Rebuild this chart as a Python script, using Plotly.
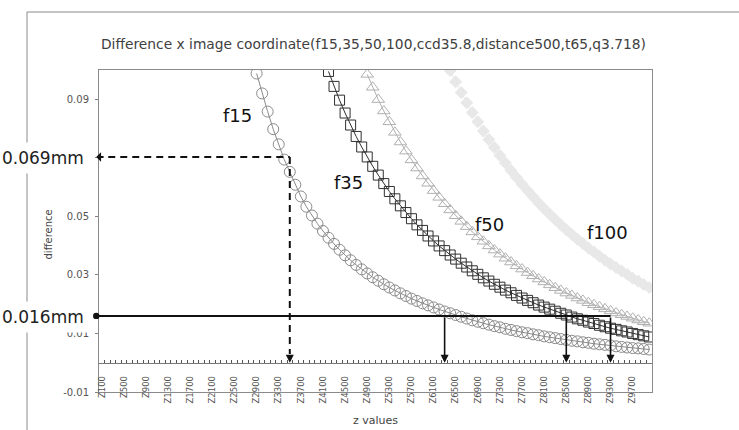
import plotly.graph_objects as go

# ---------------- data ----------------
z_values = list(range(100, 10001, 100))          # categories Z100 ... Z10000
z_tick_labels = ["Z100", "Z500", "Z900", "Z1300", "Z1700", "Z2100", "Z2500", "Z2900",
                 "Z3300", "Z3700", "Z4100", "Z4500", "Z4900", "Z5300", "Z5700", "Z6100",
                 "Z6500", "Z6900", "Z7300", "Z7700", "Z8100", "Z8500", "Z8900", "Z9300", "Z9700"]
y_tick_values = [-0.01, 0.01, 0.03, 0.05, 0.07, 0.09]
y_tick_labels = ["-0.01", "0.01", "0.03", "0.05", "", "0.09"]   # 0.07 is hidden by the 0.069mm note

f15_start = 2900
f15 = [0.0988, 0.0920, 0.0858, 0.0798, 0.0746, 0.0694, 0.0652, 0.0608, 0.0568, 0.0533,
       0.0503, 0.0475, 0.0450, 0.0427, 0.0406, 0.0386, 0.0367, 0.0350, 0.0334, 0.0319,
       0.0305, 0.0292, 0.0280, 0.0268, 0.0257, 0.0247, 0.0237, 0.0228, 0.0219, 0.0211,
       0.0203, 0.0196, 0.0189, 0.0182, 0.0175, 0.0169, 0.0163, 0.0157, 0.0151, 0.0145,
       0.0140, 0.0135, 0.0130, 0.0125, 0.0121, 0.0116, 0.0112, 0.0108, 0.0104, 0.0101,
       0.0097, 0.0094, 0.0090, 0.0087, 0.0084, 0.0081, 0.0078, 0.0075, 0.0073, 0.0070,
       0.0068, 0.0065, 0.0063, 0.0061, 0.0059, 0.0056, 0.0054, 0.0052, 0.0050, 0.0049,
       0.0047, 0.0045]

f35_start = 4200
f35 = [0.0995, 0.0944, 0.0897, 0.0853, 0.0812, 0.0773, 0.0737, 0.0703, 0.0671, 0.0641,
       0.0612, 0.0585, 0.0560, 0.0536, 0.0513, 0.0492, 0.0471, 0.0452, 0.0433, 0.0416,
       0.0399, 0.0383, 0.0368, 0.0354, 0.0340, 0.0327, 0.0314, 0.0302, 0.0290, 0.0279,
       0.0268, 0.0258, 0.0248, 0.0239, 0.0230, 0.0221, 0.0213, 0.0205, 0.0197, 0.0190,
       0.0183, 0.0176, 0.0169, 0.0163, 0.0156, 0.0150, 0.0145, 0.0139, 0.0134, 0.0128,
       0.0123, 0.0118, 0.0114, 0.0109, 0.0105, 0.0100, 0.0096, 0.0092, 0.0088]

f50_start = 4900
f50 = [0.0985, 0.0941, 0.0899, 0.0860, 0.0823, 0.0787, 0.0754, 0.0723, 0.0693, 0.0665,
       0.0638, 0.0613, 0.0588, 0.0565, 0.0543, 0.0522, 0.0502, 0.0483, 0.0465, 0.0447,
       0.0430, 0.0415, 0.0399, 0.0385, 0.0371, 0.0357, 0.0344, 0.0331, 0.0320, 0.0308,
       0.0297, 0.0286, 0.0276, 0.0266, 0.0256, 0.0247, 0.0238, 0.0230, 0.0221, 0.0213,
       0.0205, 0.0198, 0.0191, 0.0184, 0.0177, 0.0170, 0.0164, 0.0158, 0.0152, 0.0146,
       0.0140, 0.0135]

f100_start = 6400
f100 = [0.0998, 0.0960, 0.0923, 0.0888, 0.0855, 0.0823, 0.0792, 0.0763, 0.0735, 0.0708,
        0.0682, 0.0657, 0.0633, 0.0610, 0.0588, 0.0567, 0.0546, 0.0526, 0.0507, 0.0489,
        0.0471, 0.0454, 0.0438, 0.0422, 0.0407, 0.0392, 0.0378, 0.0364, 0.0350, 0.0337,
        0.0325, 0.0313, 0.0301, 0.0289, 0.0278, 0.0267, 0.0257]

series_names = ["f15", "f35", "f50", "f100"]

# guide lines drawn on the chart (value level, z where they drop)
guide_high_level = 0.0703
guide_high_text = "0.069mm"
guide_high_z = 3500
guide_low_level = 0.016
guide_low_text = "0.016mm"
guide_low_z = [6300, 8500, 9300]

# ---------------- figure ----------------
FONT = "DejaVu Sans"
fig = go.Figure()

def xs(start, vals):
    i = z_values.index(start)
    return z_values[i:i + len(vals)]

styles = [
    dict(name="f15", x=xs(f15_start, f15), y=f15, axis="x",
         marker=dict(symbol="circle-open", size=11, color="#8a8a8a", line=dict(width=1)),
         line=dict(color="#8a8a8a", width=1)),
    dict(name="f35", x=xs(f35_start, f35), y=f35, axis="x",
         marker=dict(symbol="square-open", size=10, color="#303030", line=dict(width=1)),
         line=dict(color="#303030", width=1)),
    dict(name="f50", x=xs(f50_start, f50), y=f50, axis="x2",
         marker=dict(symbol="triangle-up-open", size=11, color="#b0b0b0", line=dict(width=1)),
         line=dict(color="#b0b0b0", width=1)),
    dict(name="f100", x=xs(f100_start, f100), y=f100, axis="x3",
         marker=dict(symbol="diamond", size=10, color="#e8e8e8", line=dict(width=0)),
         line=dict(color="#e8e8e8", width=1)),
]
for s in styles:
    fig.add_trace(go.Scatter(x=s["x"], y=s["y"], name=s["name"], mode="lines+markers",
                             marker=s["marker"], line=s["line"], xaxis=s["axis"], yaxis="y",
                             cliponaxis=True, hoverinfo="skip"))

xr = [50, 10050]
label_positions = [int(t[1:]) for t in z_tick_labels]

fig.update_layout(
    width=739, height=430,
    margin=dict(l=99, r=87, t=70, b=38),
    paper_bgcolor="white", plot_bgcolor="white",
    showlegend=False,
    font=dict(family=FONT, color="#444444"),
    xaxis=dict(range=xr, showline=True, mirror=True, linecolor="#8a8a8a", linewidth=1,
               showgrid=False, zeroline=False, showticklabels=False, ticks=""),
    xaxis2=dict(range=xr, overlaying="x", anchor="free", position=1 / 11,
                showline=True, linecolor="#777777", linewidth=1,
                ticks="inside", ticklen=3, tickcolor="#555555", tick0=50, dtick=100,
                showgrid=False, zeroline=False, showticklabels=False),
    xaxis3=dict(range=xr, overlaying="x", anchor="free", position=0.058,
                showline=False, ticks="", tickmode="array", tickvals=label_positions,
                ticktext=z_tick_labels, tickangle=-90,
                tickfont=dict(family=FONT, size=8.5, color="#555555"),
                showgrid=False, zeroline=False),
    yaxis=dict(range=[-0.01, 0.1], tickmode="array", tickvals=y_tick_values,
               ticktext=y_tick_labels, ticks="outside", ticklen=3, tickcolor="#808080",
               showline=True, mirror=True, linecolor="#8a8a8a", linewidth=1,
               tickfont=dict(family=FONT, size=10, color="#555555"),
               ticklabelstandoff=4, showgrid=False, zeroline=False),
)

def px_x(p):
    return (p - 99) / 553.0

def px_y(p):
    return (392 - p) / 322.0

# outer chart frame (partially visible)
fig.add_shape(type="line", xref="paper", yref="paper", x0=px_x(27), x1=px_x(760),
              y0=px_y(12), y1=px_y(12), line=dict(color="#8a8a8a", width=1), layer="below")
fig.add_shape(type="line", xref="paper", yref="paper", x0=px_x(27), x1=px_x(27),
              y0=px_y(12), y1=px_y(450), line=dict(color="#8a8a8a", width=1), layer="below")

# guide lines
fig.add_shape(type="line", xref="x", yref="y", x0=0, x1=guide_high_z,
              y0=guide_high_level, y1=guide_high_level,
              line=dict(color="#111111", width=2, dash="7px,5px"))
fig.add_shape(type="line", xref="x", yref="y", x0=guide_high_z, x1=guide_high_z,
              y0=guide_high_level, y1=0.003,
              line=dict(color="#111111", width=2, dash="7px,5px"))
fig.add_shape(type="line", xref="x", yref="y", x0=0, x1=guide_low_z[-1],
              y0=guide_low_level, y1=guide_low_level,
              line=dict(color="#111111", width=2))

arrows = [
    dict(x=0, y=guide_high_level, ax=160, ay=guide_high_level, arrowhead=1),
    dict(x=guide_high_z, y=0, ax=guide_high_z, ay=0.003, arrowhead=2),
    dict(x=0, y=guide_low_level, ax=160, ay=guide_low_level, arrowhead=6),
] + [dict(x=z, y=0, ax=z, ay=guide_low_level, arrowhead=2) for z in guide_low_z]
for a in arrows:
    fig.add_annotation(x=a["x"], y=a["y"], ax=a["ax"], ay=a["ay"], xref="x", yref="y",
                       axref="x", ayref="y", text="", showarrow=True, arrowhead=a["arrowhead"],
                       arrowsize=1, arrowwidth=1.6, arrowcolor="#111111")

# texts
fig.add_annotation(xref="paper", yref="paper", x=px_x(373), y=px_y(44), showarrow=False,
                   text="Difference x image coordinate(f15,35,50,100,ccd35.8,distance500,t65,q3.718)",
                   font=dict(family=FONT, size=13.8, color="#404040"), yanchor="middle")
fig.add_annotation(xref="paper", yref="paper", x=0.5, y=px_y(420), showarrow=False,
                   text="z values", font=dict(family=FONT, size=11, color="#444444"),
                   yanchor="middle")
fig.add_annotation(xref="paper", yref="paper", x=px_x(40), y=px_y(235), showarrow=False,
                   text="difference", textangle=-90,
                   font=dict(family=FONT, size=10, color="#444444"))
for txt, py in [(guide_high_text, 158), (guide_low_text, 317)]:
    fig.add_annotation(xref="paper", yref="paper", x=px_x(-4), y=px_y(py), showarrow=False,
                       xanchor="left", yanchor="middle", text=txt, bgcolor="white",
                       borderpad=5, font=dict(family=FONT, size=17, color="#222222"))

label_pos = {"f15": (2560, 0.0846), "f35": (4560, 0.0614), "f50": (7120, 0.0471),
             "f100": (9240, 0.0444)}
for n in series_names:
    zx, vy = label_pos[n]
    fig.add_annotation(xref="x", yref="y", x=zx, y=vy, text=n, showarrow=False,
                       font=dict(family=FONT, size=18, color="#111111"))

fig.write_html("out.html", config={"displayModeBar": False},
               post_script="document.body.style.margin='0px';document.body.style.overflow='hidden';")
